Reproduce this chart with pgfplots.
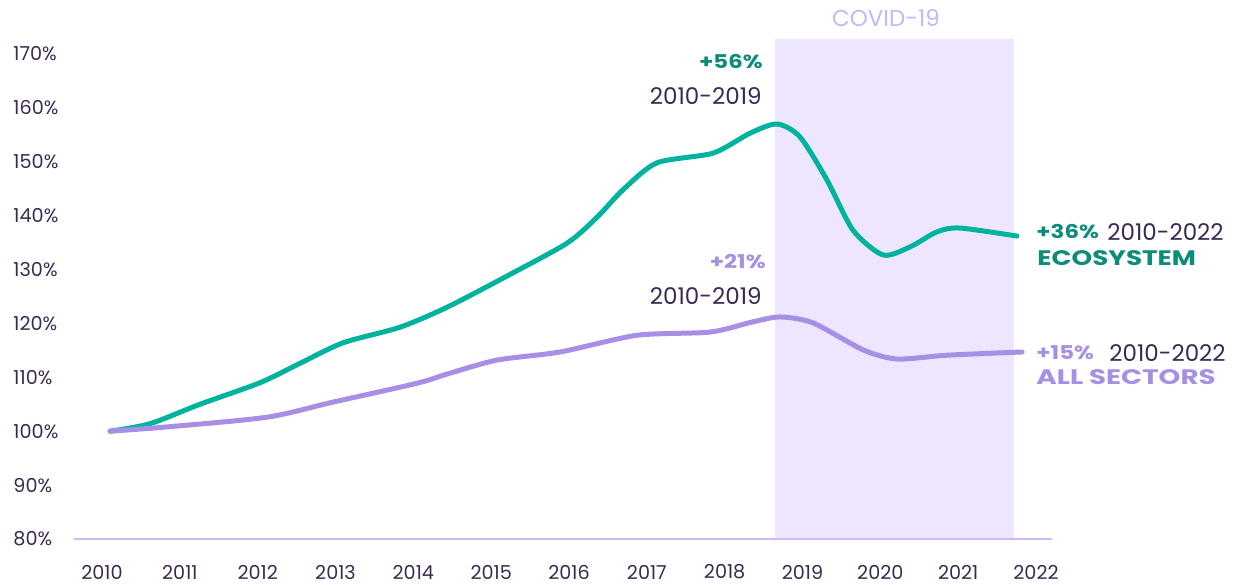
\documentclass[border=0pt]{standalone}
\usepackage{fontspec}
\setmainfont{Poppins}
\usepackage{pgfplots}
\usepackage{graphicx}
\pgfplotsset{compat=1.18}
\definecolor{tealline}{HTML}{00B39E}
\definecolor{tealtext}{HTML}{0E8C7B}
\definecolor{lilacline}{HTML}{A88FE6}
\definecolor{lilactext}{HTML}{A690E4}
\definecolor{covidshade}{HTML}{EEE6FE}
\definecolor{basecol}{HTML}{CDB9F7}
\definecolor{covidtext}{HTML}{C8B5F7}
\definecolor{darktext}{HTML}{3A2A52}
\newcommand{\annfont}{\fontsize{11.5}{13}\selectfont\color{darktext}}
\newcommand{\dispfont}{\fontsize{9.5}{11}\selectfont\bfseries}
\newcommand{\widefont}{\fontsize{10.5}{12}\selectfont\bfseries}
\begin{document}
\begin{tikzpicture}
\useasboundingbox (0,0) rectangle (625.5pt,292pt);
\begin{axis}[
  at={(31.55pt,22.5pt)}, anchor=south west,
  scale only axis, width=505.9pt, height=256pt,
  xmin=2009.5, xmax=2022.5, ymin=80, ymax=175,
  clip=false,
  axis line style={draw=none},
  tick style={draw=none},
  xtick={2010,2011,2012,2013,2014,2015,2016,2017,2018,2019,2020,2021,2022},
  xticklabels={2010,2011,2012,2013,2014,2015,2016,2017,2018,2019,2020,2021,2022},
  ytick={80,90,100,110,120,130,140,150,160,170},
  yticklabels={80\%,90\%,100\%,110\%,120\%,130\%,140\%,150\%,160\%,170\%},
  xticklabel style={anchor=center, inner sep=0pt, yshift=-16.5pt, font=\fontsize{9.6}{11}\selectfont, text=darktext},
  yticklabel style={anchor=west, inner sep=0pt, xshift=-25pt, font=\fontsize{9.6}{11}\selectfont, text=darktext},
]
\fill[covidshade] (axis cs:2018.647,79.8) rectangle (axis cs:2021.718,172.8);
\draw[basecol, line width=1.3pt] (axis cs:2009.64,80) -- (axis cs:2022.21,80);
\addplot[tealline, line width=2.5pt, line cap=round, smooth, tension=0.45] coordinates {
(2010.103,100.0) (2010.617,101.4) (2011.259,105.0) (2012.030,109.0) (2012.544,112.6)
(2013.097,116.4) (2013.829,119.3) (2014.433,123.0) (2015.204,128.8) (2015.975,134.9)
(2016.360,139.7) (2016.694,144.8) (2017.131,149.8) (2017.851,151.6) (2018.326,155.3)
(2018.673,157.0) (2018.968,154.6) (2019.315,146.6) (2019.649,137.3) (2020.035,132.7)
(2020.382,134.2) (2020.729,137.0) (2021.024,137.7) (2021.756,136.2)
};
\addplot[lilacline, line width=2.5pt, line cap=round, smooth, tension=0.45] coordinates {
(2010.103,100.0) (2010.835,100.8) (2012.120,102.6) (2012.968,105.4) (2014.047,108.9)
(2014.433,110.6) (2015.075,113.2) (2015.885,114.7) (2016.874,117.8) (2017.812,118.4)
(2018.364,120.3) (2018.711,121.2) (2019.135,120.1) (2019.778,115.1) (2020.215,113.4)
(2020.857,114.1) (2021.821,114.7)
};
\end{axis}
\begin{scope}[shift={(0,292pt)}, x=0.5pt, y=-0.5pt]
\node[anchor=center, inner sep=0pt, text=covidtext, font=\fontsize{11.5}{13}\selectfont] at (886,18) {COVID-19};
\node[anchor=east, inner sep=0pt, text=tealtext, font=\dispfont] at (763,62) {\scalebox{1.2}[1]{+56\%}};
\node[anchor=east, inner sep=0pt, font=\annfont] at (762,96) {2010-2019};
\node[anchor=east, inner sep=0pt, text=lilactext, font=\dispfont] at (766,262) {\scalebox{1.2}[1]{+21\%}};
\node[anchor=east, inner sep=0pt, font=\annfont] at (762,296) {2010-2019};
\node[anchor=west, inner sep=0pt, text=tealtext, font=\dispfont] at (1036,232) {\scalebox{1.2}[1]{+36\%}};
\node[anchor=west, inner sep=0pt, font=\annfont] at (1107,232) {2010-2022};
\node[anchor=west, inner sep=0pt, text=tealtext, font=\widefont] at (1037,258) {\scalebox{1.25}[1]{ECOSYSTEM}};
\node[anchor=west, inner sep=0pt, text=lilactext, font=\dispfont] at (1036,353) {\scalebox{1.2}[1]{+15\%}};
\node[anchor=west, inner sep=0pt, font=\annfont] at (1109,353) {2010-2022};
\node[anchor=west, inner sep=0pt, text=lilactext, font=\widefont] at (1036,377) {\scalebox{1.32}[1]{ALL SECTORS}};
\end{scope}
\end{tikzpicture}
\end{document}
